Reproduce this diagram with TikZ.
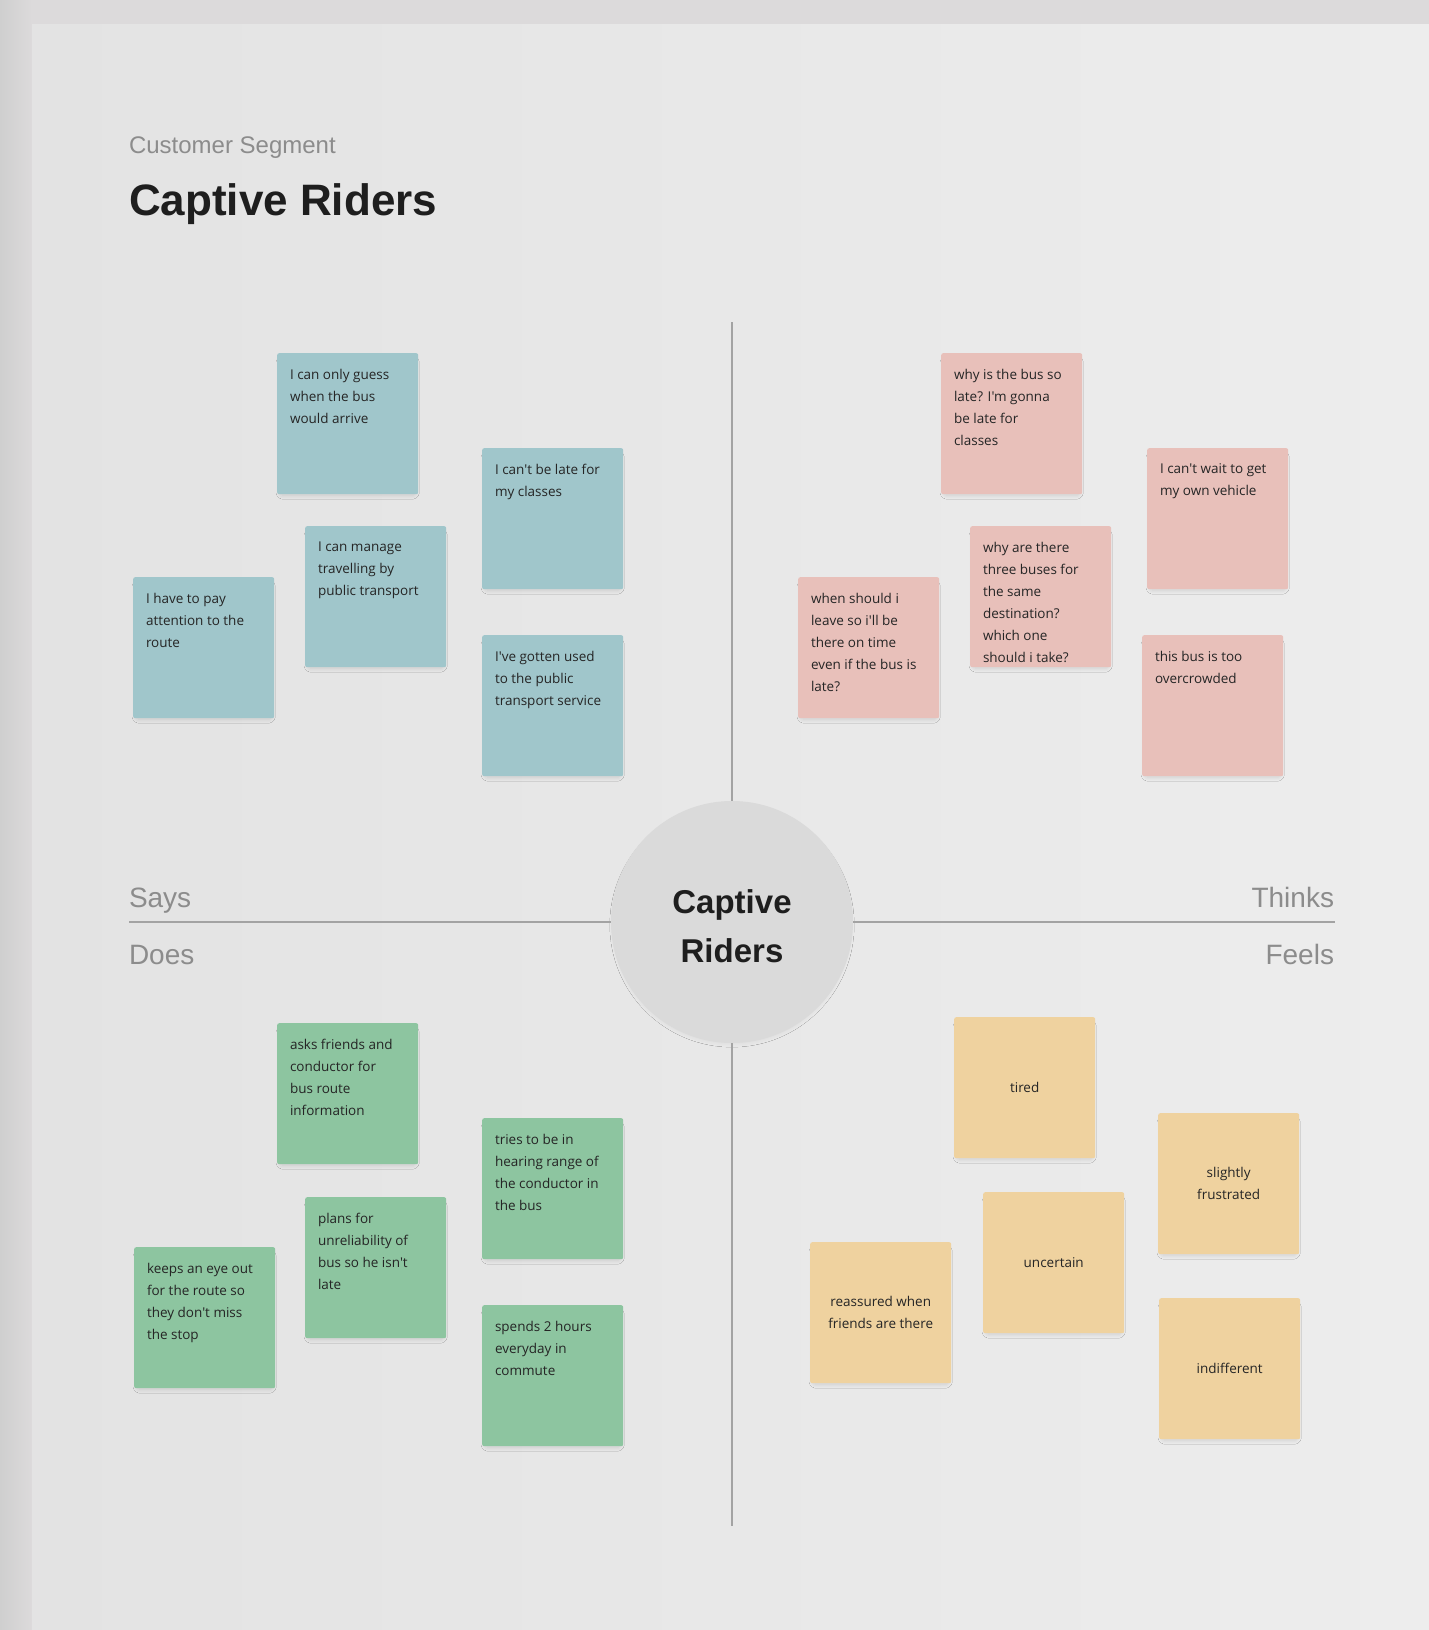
\documentclass[tikz,border=0pt]{standalone}
\usepackage{fontspec}
\setmainfont{Liberation Sans}
\newfontfamily\notefont{Open Sans}
\usetikzlibrary{shadows.blur}

\definecolor{frameC}{HTML}{DCDADB}
\definecolor{frameL}{HTML}{CFCFCF}
\definecolor{panelL}{HTML}{E3E3E3}
\definecolor{panelR}{HTML}{EDEDED}
\definecolor{labelC}{HTML}{8C8C8C}
\definecolor{axisC}{HTML}{A3A3A3}
\definecolor{hubC}{HTML}{DADADA}
\definecolor{inkC}{HTML}{1E1E1E}
\definecolor{noteInk}{HTML}{252525}
\definecolor{saysC}{HTML}{A0C6CB}
\definecolor{thinksC}{HTML}{E8C0BA}
\definecolor{doesC}{HTML}{8DC5A0}
\definecolor{feelsC}{HTML}{EFD29F}

\tikzset{
  txt/.style={inner sep=0pt, outer sep=0pt},
  quadlabel/.style={txt, text=labelC, font=\fontsize{28}{32}\selectfont},
  axis/.style={draw=axisC, line width=1.6pt},
  note/.style={minimum width=141pt, minimum height=141pt, inner sep=0pt,
    rounded corners=2pt, draw=none,
    blur shadow={shadow xshift=0pt, shadow yshift=-4pt, shadow scale=0.96,
      shadow blur radius=4pt, shadow blur steps=8, shadow opacity=12}},
  notetext/.style={txt, align=left, text=noteInk, font=\notefont\fontsize{13.5}{22}\selectfont},
  feeltext/.style={txt, align=center, text=noteInk, font=\notefont\fontsize{13.5}{22}\selectfont},
}

% sticky note with text set from its top left corner
\newcommand\stickynote[5]{%
  \node[note, fill=#2, anchor=north west] (#1) at (#3,#4) {};
  \node[notetext, anchor=north west] (#1-t) at ([xshift=13pt,yshift=-16pt]#1.north west) {#5};
}
% sticky note with centred text
\newcommand\feelnote[4]{%
  \node[note, fill=feelsC, anchor=north west] (#1) at (#2,#3) {};
  \node[feeltext] (#1-t) at (#1.center) {#4};
}

\begin{document}
\begin{tikzpicture}[x=1pt, y=-1pt]
\useasboundingbox (0,0) rectangle (1429,1630);

% backdrop and board
\fill[frameC] (0,0) rectangle (1429,1630);
\shade[left color=frameL, right color=frameC] (0,0) rectangle (32,1630);
\shade[left color=panelL, right color=panelR] (32,24) rectangle (1429,1630);

% heading
\node[txt, anchor=base west, text=labelC, font=\fontsize{24}{28}\selectfont] (segment) at (129,153) {Customer Segment};
\node[txt, anchor=base west, text=inkC, font=\fontsize{44}{50}\selectfont\bfseries] (title) at (129,215) {Captive Riders};

% centre hub and axes
\node[circle, fill=hubC, minimum size=242pt, inner sep=0pt,
  blur shadow={shadow xshift=0pt, shadow yshift=-3pt, shadow scale=0.97,
    shadow blur radius=5pt, shadow opacity=8}] (hub) at (732,922) {};
\node[txt, anchor=base, text=inkC, font=\fontsize{33}{38}\selectfont\bfseries] (hubA) at (732,913) {Captive};
\node[txt, anchor=base, text=inkC, font=\fontsize{33}{38}\selectfont\bfseries] (hubB) at (732,962) {Riders};

\coordinate (axTop) at (732,322);
\coordinate (axBottom) at (732,1526);
\coordinate (axLeft) at (129,922);
\coordinate (axRight) at (1335,922);
\draw[axis] (axTop) -- (hub.north);
\draw[axis] (hub.south) -- (axBottom);
\draw[axis] (axLeft) -- (hub.west);
\draw[axis] (hub.east) -- (axRight);

\node[quadlabel, anchor=base west] (says) at (129,907) {Says};
\node[quadlabel, anchor=base west] (does) at (129,964) {Does};
\node[quadlabel, anchor=base east] (thinks) at (1334,907) {Thinks};
\node[quadlabel, anchor=base east] (feels) at (1334,964) {Feels};

% Says
\stickynote{sa}{saysC}{277}{353}{I can only guess\\when the bus\\would arrive}
\stickynote{sb}{saysC}{482}{448}{I can't be late for\\my classes}
\stickynote{sc}{saysC}{305}{526}{I can manage\\travelling by\\public transport}
\stickynote{sd}{saysC}{133}{577}{I have to pay\\attention to the\\route}
\stickynote{se}{saysC}{482}{635}{I've gotten used\\to the public\\transport service}

% Thinks
\stickynote{ta}{thinksC}{941}{353}{why is the bus so\\late? I'm gonna\\be late for\\classes}
\stickynote{tb}{thinksC}{1147}{448}{I can't wait to get\\my own vehicle}
\stickynote{tc}{thinksC}{970}{526}{why are there\\three buses for\\the same\\destination?\\which one\\should i take?}
\stickynote{td}{thinksC}{798}{577}{when should i\\leave so i'll be\\there on time\\even if the bus is\\late?}
\stickynote{te}{thinksC}{1142}{635}{this bus is too\\overcrowded}

% Does
\stickynote{da}{doesC}{277}{1023}{asks friends and\\conductor for\\bus route\\information}
\stickynote{db}{doesC}{482}{1118}{tries to be in\\hearing range of\\the conductor in\\the bus}
\stickynote{dc}{doesC}{305}{1197}{plans for\\unreliability of\\bus so he isn't\\late}
\stickynote{dd}{doesC}{134}{1247}{keeps an eye out\\for the route so\\they don't miss\\the stop}
\stickynote{de}{doesC}{482}{1305}{spends 2 hours\\everyday in\\commute}

% Feels
\feelnote{fa}{954}{1017}{tired}
\feelnote{fb}{1158}{1113}{slightly\\frustrated}
\feelnote{fc}{983}{1192}{uncertain}
\feelnote{fd}{810}{1242}{reassured when\\friends are there}
\feelnote{fe}{1159}{1298}{indifferent}
\end{tikzpicture}
\end{document}
